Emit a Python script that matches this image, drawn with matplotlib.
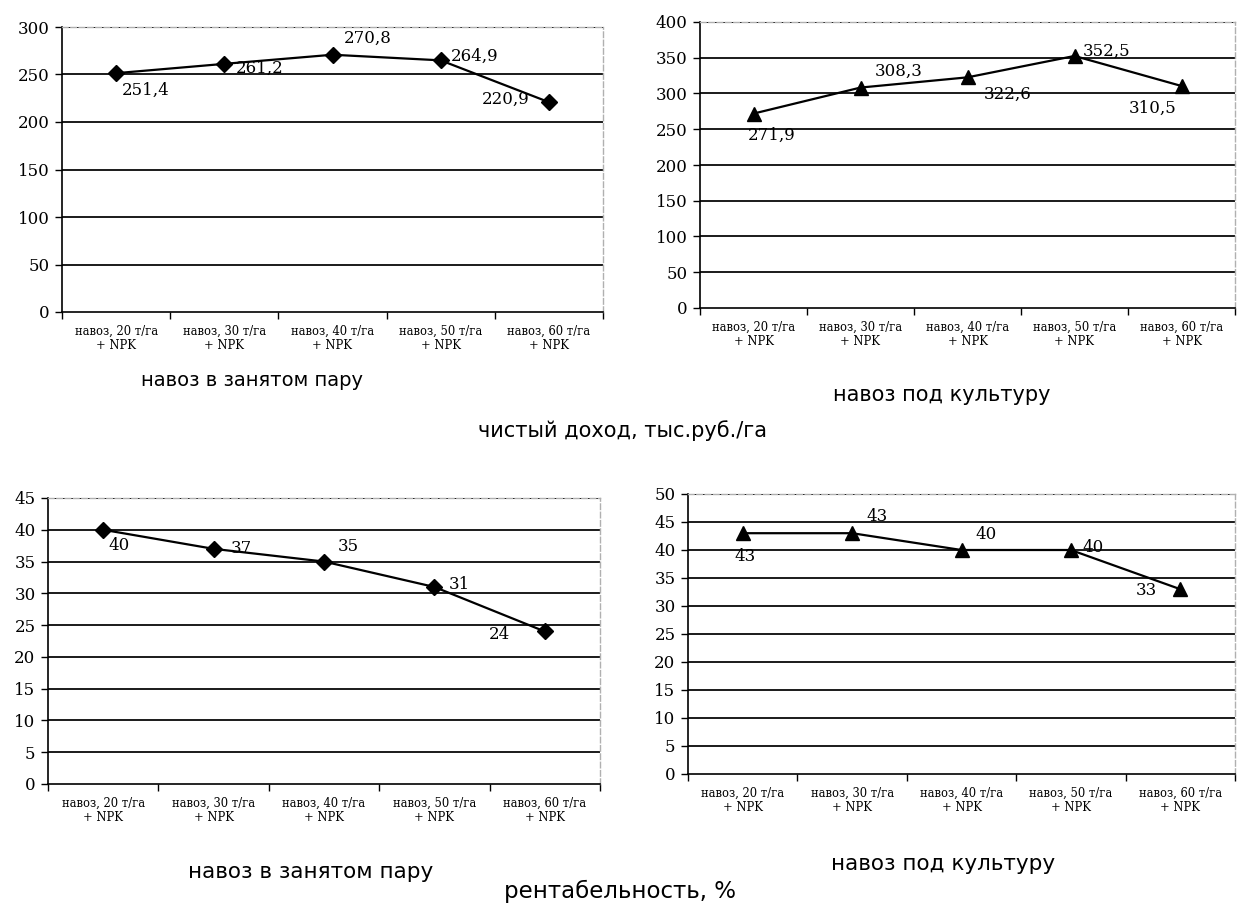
import matplotlib
matplotlib.use("Agg")
import matplotlib.pyplot as plt
import numpy as np

categories = ["навоз, 20 т/га\n+ NPK", "навоз, 30 т/га\n+ NPK", "навоз, 40 т/га\n+ NPK",
              "навоз, 50 т/га\n+ NPK", "навоз, 60 т/га\n+ NPK"]
income_fallow = [251.4, 261.2, 270.8, 264.9, 220.9]
income_crop = [271.9, 308.3, 322.6, 352.5, 310.5]
profit_fallow = [40, 37, 35, 31, 24]
profit_crop = [43, 43, 40, 40, 33]

labels_income_fallow = ["251,4", "261,2", "270,8", "264,9", "220,9"]
labels_income_crop = ["271,9", "308,3", "322,6", "352,5", "310,5"]
labels_profit_fallow = ["40", "37", "35", "31", "24"]
labels_profit_crop = ["43", "43", "40", "40", "33"]

subtitle_fallow = "навоз в занятом пару"
subtitle_crop = "навоз под культуру"
title_income = "чистый доход, тыс.руб./га"
title_profit = "рентабельность, %"

SERIF = ["DejaVu Serif"]
SANS = ["DejaVu Sans"]

fig = plt.figure(figsize=(12.37, 9.06), dpi=100)
W, H = 1237.0, 906.0

def px_axes(l, t, r, b):
    return fig.add_axes([l / W, 1 - b / H, (r - l) / W, (b - t) / H])

def draw(ax, vals, labels, ymax, ystep, marker, msize, offsets):
    n = len(vals)
    x = np.arange(n)
    ax.set_xlim(-0.5, n - 0.5)
    ax.set_ylim(0, ymax)
    yt = np.arange(0, ymax + 0.1, ystep)
    ax.set_yticks(yt)
    ax.set_yticklabels([f"{int(v)}" for v in yt], fontfamily=SERIF, fontsize=12)
    for v in yt[1:]:
        ax.axhline(v, color="#1a1a1a", lw=1.4, zorder=1)
    ax.plot(x, vals, color="black", lw=1.6, marker=marker, ms=msize,
            markerfacecolor="black", markeredgecolor="black", zorder=3, clip_on=False)
    for xi, v, lab, off in zip(x, vals, labels, offsets):
        ax.annotate(lab, (xi, v), xytext=off, textcoords="offset points",
                    ha="left", va="center", fontfamily=SERIF, fontsize=12, zorder=4)
    ax.set_xticks(x)
    ax.set_xticklabels(categories, fontfamily=SERIF, fontsize=8.3, linespacing=1.15)
    ax.set_xticks(np.arange(-0.5, n), minor=True)
    ax.tick_params(axis="x", which="major", length=0, pad=9)
    ax.tick_params(axis="x", which="minor", length=5, direction="out", width=1)
    ax.tick_params(axis="y", length=5, direction="out", width=1, pad=4)
    for s in ["left", "bottom"]:
        ax.spines[s].set_color("black")
        ax.spines[s].set_linewidth(1.2)
    for s in ["top", "right"]:
        ax.spines[s].set_color("#b0b0b0")
        ax.spines[s].set_linewidth(1.0)
        ax.spines[s].set_linestyle((0, (4, 2)))

ax1 = px_axes(62, 27, 603, 312)
draw(ax1, income_fallow, labels_income_fallow, 300, 50, "D", 8,
     [(4, -12), (8, -3), (8, 12), (7, 3), (-48, 2)])
ax2 = px_axes(700, 22, 1235, 308)
draw(ax2, income_crop, labels_income_crop, 400, 50, "^", 10,
     [(-4, -16), (10, 12), (12, -12), (6, 3), (-38, -16)])
ax3 = px_axes(48, 498, 600, 784)
draw(ax3, profit_fallow, labels_profit_fallow, 45, 5, "D", 8,
     [(4, -11), (12, 0), (10, 11), (10, 2), (-40, -2)])
ax4 = px_axes(688, 494, 1235, 774)
draw(ax4, profit_crop, labels_profit_crop, 50, 5, "^", 10,
     [(-6, -17), (10, 12), (10, 11), (8, 2), (-32, -1)])

fig.text(252 / W, 1 - 381 / H, subtitle_fallow, ha="center", va="center", fontfamily=SANS, fontsize=14)
fig.text(942 / W, 1 - 395 / H, subtitle_crop, ha="center", va="center", fontfamily=SANS, fontsize=15)
fig.text(623 / W, 1 - 431 / H, title_income, ha="center", va="center", fontfamily=SANS, fontsize=15)
fig.text(311 / W, 1 - 872 / H, subtitle_fallow, ha="center", va="center", fontfamily=SANS, fontsize=15.5)
fig.text(943 / W, 1 - 864 / H, subtitle_crop, ha="center", va="center", fontfamily=SANS, fontsize=15.5)
fig.text(620 / W, 1 - 891 / H, title_profit, ha="center", va="center", fontfamily=SANS, fontsize=16.5)

fig.savefig("out.png", dpi=100, facecolor="white")
